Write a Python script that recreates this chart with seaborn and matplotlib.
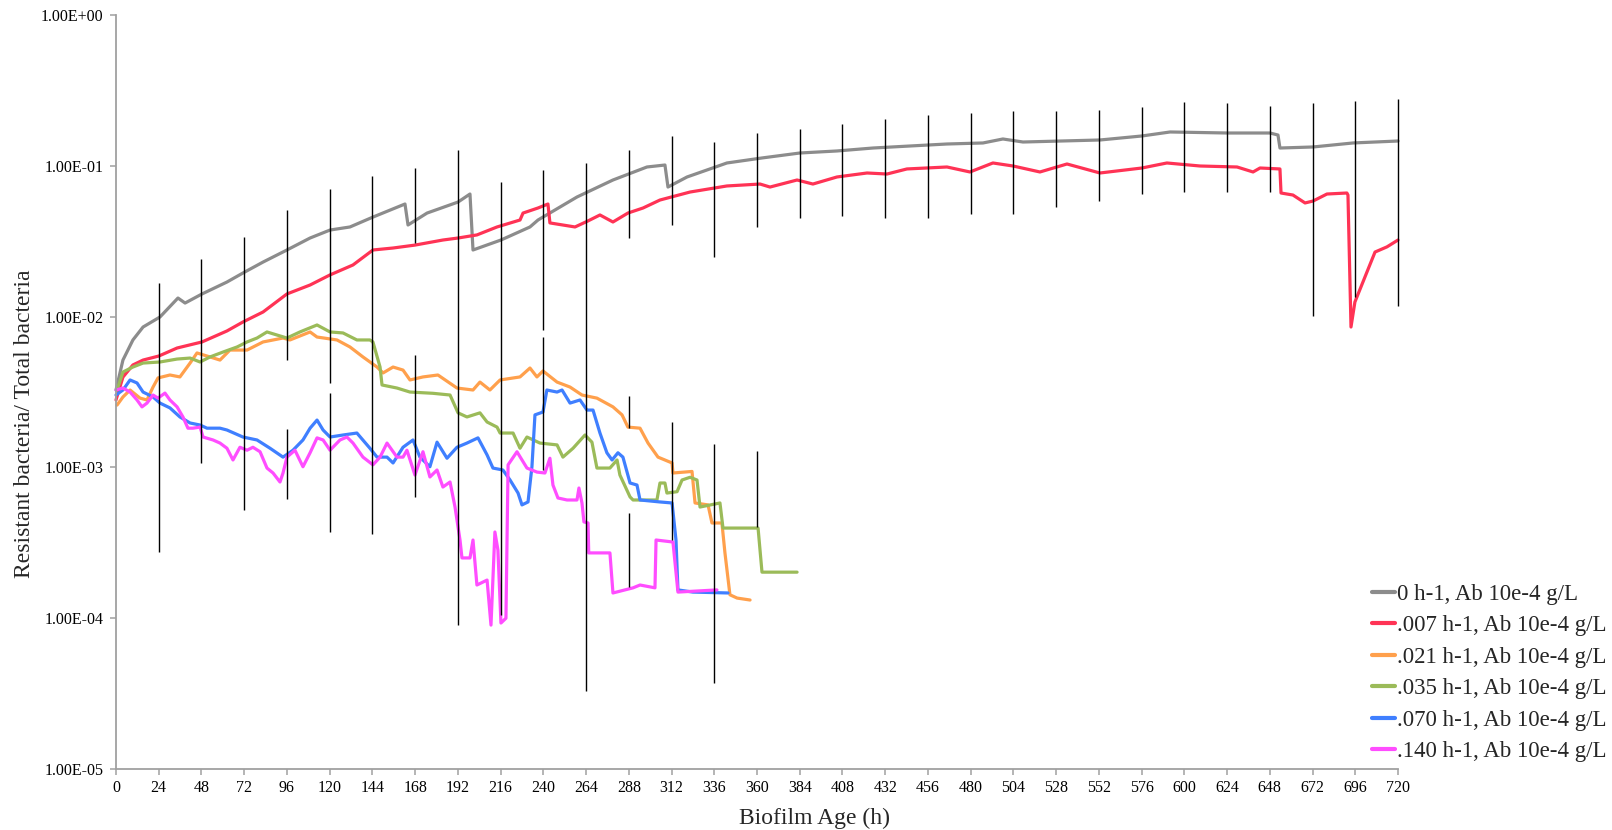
import matplotlib
matplotlib.use("Agg")
import numpy as np
import pandas as pd
import matplotlib.pyplot as plt
from matplotlib.ticker import NullLocator
import seaborn as sns

# series labels and colours
labels = ["0 h-1, Ab 10e-4 g/L", ".007 h-1, Ab 10e-4 g/L", ".021 h-1, Ab 10e-4 g/L",
          ".035 h-1, Ab 10e-4 g/L", ".070 h-1, Ab 10e-4 g/L", ".140 h-1, Ab 10e-4 g/L"]
colors = ["#8c8c8c", "#ff3355", "#ffa04c", "#9bbb59", "#3f7fff", "#ff4dff"]

# values (hours, resistant/total ratio)
grey_h = [0, 3.9, 9.5, 15.2, 24.7, 34.8, 38.8, 48.3, 62.3, 71.3, 82.6, 96.0, 109, 120.2, 131.4,
          144.3, 162.3, 164, 174.7, 192.1, 198.8, 200.5, 216.2, 232.5, 237, 258.9, 279.1, 298.2,
          308.3, 310, 320.7, 343.1, 362.8, 384.1, 404.9, 425.1, 445.9, 466.7, 486.9, 498.1, 509.4,
          552.6, 576.2, 592, 624, 648.1, 652.6, 653.7, 672.3, 694.7, 720]
grey_v = [3.26e-3, 5.15e-3, 7.0e-3, 8.53e-3, 9.94e-3, 1.328e-2, 1.23e-2, 1.413e-2, 1.695e-2, 1.946e-2,
          2.30e-2, 2.765e-2, 3.32e-2, 3.75e-2, 3.93e-2, 4.57e-2, 5.58e-2, 4.05e-2, 4.86e-2, 5.75e-2,
          6.50e-2, 2.765e-2, 3.22e-2, 3.93e-2, 4.37e-2, 6.21e-2, 8.05e-2, 9.82e-2, 1.012e-1, 7.23e-2,
          8.43e-2, 1.044e-1, 1.127e-1, 1.216e-1, 1.254e-1, 1.312e-1, 1.353e-1, 1.395e-1, 1.417e-1,
          1.506e-1, 1.438e-1, 1.483e-1, 1.577e-1, 1.676e-1, 1.650e-1, 1.650e-1, 1.60e-1, 1.312e-1,
          1.333e-1, 1.417e-1, 1.46e-1]

red_h = [0, 3.9, 9.5, 15.2, 24.1, 34.3, 48.3, 62.3, 71.3, 82.6, 96, 109, 120.2, 133.1, 144.3,
         155.6, 167.9, 183.6, 192.1, 202.7, 214, 226.9, 228.6, 237, 242.6, 243.7, 257.8, 265.1,
         271.8, 279.1, 287.5, 296, 305.5, 322.4, 343.1, 361.7, 367.3, 382.5, 391.4, 404.9, 421.8,
         433, 444.2, 466.7, 479.6, 492.5, 503.8, 518.9, 534.1, 552.6, 576.2, 590.2, 608.8, 629.6,
         638.6, 642.5, 653.7, 654.3, 661, 667.8, 672.3, 680.1, 691.3, 691.9, 693.6, 695.8, 702.6,
         707.1, 713.8, 720]
red_v = [2.80e-3, 3.97e-3, 4.78e-3, 5.15e-3, 5.48e-3, 6.19e-3, 6.79e-3, 8.03e-3, 9.21e-3, 1.073e-2,
         1.413e-2, 1.62e-2, 1.89e-2, 2.20e-2, 2.765e-2, 2.85e-2, 2.98e-2, 3.22e-2, 3.32e-2, 3.48e-2,
         3.93e-2, 4.37e-2, 4.86e-2, 5.25e-2, 5.58e-2, 4.18e-2, 3.93e-2, 4.31e-2, 4.72e-2, 4.24e-2,
         4.86e-2, 5.25e-2, 5.93e-2, 6.70e-2, 7.35e-2, 7.57e-2, 7.23e-2, 8.05e-2, 7.57e-2, 8.43e-2,
         8.96e-2, 8.82e-2, 9.53e-2, 9.82e-2, 9.10e-2, 1.044e-1, 9.97e-2, 9.10e-2, 1.028e-1, 8.96e-2,
         9.67e-2, 1.044e-1, 9.97e-2, 9.82e-2, 9.10e-2, 9.67e-2, 9.53e-2, 6.60e-2, 6.40e-2, 5.67e-2,
         5.84e-2, 6.50e-2, 6.60e-2, 6.40e-2, 8.53e-3, 1.25e-2, 1.98e-2, 2.68e-2, 2.90e-2, 3.22e-2]

orange_h = [0.6, 3.9, 7.9, 13.5, 17.4, 20.8, 23.6, 30.3, 35.9, 41.6, 45.5, 52.8, 58.4, 64, 73.6,
            82.6, 93.8, 97.7, 109, 112.9, 124.1, 131.4, 138.7, 146.6, 150, 155.6, 161.2, 165.1,
            172.4, 180.8, 191.5, 200.5, 204.4, 210, 215.7, 226.9, 232.5, 236.4, 239.8, 247.7, 255,
            261.7, 270.1, 279.1, 284.2, 287.5, 294.3, 298.8, 304.4, 312.3, 312.8, 323.5, 325.2,
            332.5, 334.7, 340.3, 342, 344.8, 348.8, 356.1]
orange_v = [2.59e-3, 2.93e-3, 3.26e-3, 2.88e-3, 2.80e-3, 3.41e-3, 3.92e-3, 4.10e-3, 3.98e-3, 4.92e-3,
            5.74e-3, 5.40e-3, 5.15e-3, 6.0e-3, 6.0e-3, 6.79e-3, 7.21e-3, 7.0e-3, 7.91e-3, 7.32e-3,
            7.0e-3, 6.29e-3, 5.40e-3, 4.63e-3, 4.23e-3, 4.63e-3, 4.42e-3, 3.80e-3, 3.98e-3, 4.10e-3,
            3.36e-3, 3.26e-3, 3.68e-3, 3.26e-3, 3.80e-3, 3.98e-3, 4.56e-3, 3.98e-3, 4.36e-3, 3.68e-3,
            3.41e-3, 3.02e-3, 2.88e-3, 2.52e-3, 2.23e-3, 1.85e-3, 1.82e-3, 1.45e-3, 1.17e-3, 1.07e-3,
            9.18e-4, 9.4e-4, 5.81e-4, 5.64e-4, 4.28e-4, 4.28e-4, 2.71e-4, 1.43e-4, 1.36e-4, 1.32e-4]

green_h = [0.6, 3.9, 9.5, 15.2, 24.7, 34.3, 41.6, 47.2, 52.8, 60.1, 68, 73.6, 79.2, 84.8, 90.4, 96,
           103.3, 112.9, 120.2, 127.5, 135.3, 142.6, 144.3, 148.3, 149.4, 157.8, 165.1, 178, 187.6,
           192.1, 197.1, 204.4, 208.4, 214, 215.7, 223, 226.9, 230.8, 238.1, 247.7, 251, 256.7,
           263.4, 267.3, 270.1, 277.4, 281.4, 283, 288.7, 290.4, 303.8, 305.5, 308.3, 309.4, 315.1,
           317.9, 322.4, 326.3, 328, 339.2, 340.9, 360.6, 362.8, 382.5]
green_v = [3.26e-3, 4.29e-3, 4.63e-3, 4.92e-3, 5.0e-3, 5.23e-3, 5.31e-3, 5.0e-3, 5.40e-3, 5.82e-3,
           6.29e-3, 6.79e-3, 7.21e-3, 7.91e-3, 7.55e-3, 7.21e-3, 7.91e-3, 8.80e-3, 7.91e-3, 7.79e-3,
           7.0e-3, 7.0e-3, 6.79e-3, 4.63e-3, 3.52e-3, 3.36e-3, 3.16e-3, 3.10e-3, 3.02e-3, 2.30e-3,
           2.16e-3, 2.30e-3, 2.0e-3, 1.85e-3, 1.69e-3, 1.69e-3, 1.34e-3, 1.59e-3, 1.45e-3, 1.41e-3,
           1.17e-3, 1.34e-3, 1.64e-3, 1.47e-3, 9.9e-4, 9.9e-4, 1.12e-3, 8.9e-4, 6.37e-4, 6.08e-4,
           6.08e-4, 7.88e-4, 7.88e-4, 6.76e-4, 6.9e-4, 8.25e-4, 8.6e-4, 8.25e-4, 5.46e-4, 5.81e-4,
           3.96e-4, 3.96e-4, 2.02e-4, 2.02e-4]

blue_h = [0, 3.9, 7.9, 11.8, 15.2, 20.8, 24.7, 30.3, 35.9, 41.6, 47.2, 51.1, 58.4, 62.3, 71.3, 79.2,
          86.5, 93.8, 99.4, 105, 109, 112.9, 116.3, 120.2, 127.5, 135.3, 142.6, 146.6, 152.2, 155.6,
          161.2, 165.1, 166.8, 170.7, 176.3, 180.3, 185.9, 191.5, 197.1, 203.3, 208.4, 211.7, 217.3,
          221.3, 225.8, 228, 231.4, 233.6, 235.3, 239.8, 242, 247.7, 250.5, 255, 260.6, 264.5,
          267.9, 271.8, 275.7, 278.6, 281.9, 284.7, 288.7, 292.6, 294.3, 305.5, 312.3, 314.5,
          315.6, 324, 343.7]
blue_v = [3.02e-3, 3.26e-3, 3.80e-3, 3.63e-3, 3.16e-3, 2.93e-3, 2.67e-3, 2.48e-3, 2.16e-3, 1.97e-3,
          1.91e-3, 1.82e-3, 1.82e-3, 1.77e-3, 1.59e-3, 1.52e-3, 1.34e-3, 1.17e-3, 1.30e-3, 1.52e-3,
          1.82e-3, 2.06e-3, 1.77e-3, 1.59e-3, 1.64e-3, 1.69e-3, 1.34e-3, 1.17e-3, 1.17e-3, 1.07e-3,
          1.36e-3, 1.47e-3, 1.52e-3, 1.17e-3, 1.01e-3, 1.47e-3, 1.15e-3, 1.36e-3, 1.45e-3, 1.57e-3,
          1.21e-3, 9.9e-4, 9.61e-4, 8.25e-4, 6.76e-4, 5.64e-4, 5.90e-4, 1.01e-3, 2.23e-3, 2.33e-3,
          3.26e-3, 3.16e-3, 3.26e-3, 2.67e-3, 2.80e-3, 2.40e-3, 2.40e-3, 1.69e-3, 1.25e-3, 1.12e-3,
          1.25e-3, 1.17e-3, 7.88e-4, 7.64e-4, 6.08e-4, 5.90e-4, 5.81e-4, 3.30e-4, 1.54e-4, 1.49e-4,
          1.47e-4]

pink_h = [0, 3.9, 7.9, 11.8, 14.6, 17.4, 20.8, 23.6, 27.5, 30.3, 34.3, 37.6, 40.4, 43.2, 47.2, 48.9,
          54.5, 58.4, 62.3, 65.7, 69.6, 73.6, 76.9, 80.9, 84.8, 88.2, 92.1, 93.8, 96, 100.5, 105,
          109, 112.9, 116.3, 120.2, 125.8, 129.7, 133.1, 138.7, 144.3, 148.3, 152.2, 157.8, 161.2,
          163.4, 167.9, 172.4, 176.3, 180.3, 183.6, 187.6, 190.4, 193.2, 194.3, 198.8, 200.5, 202.7,
          208.4, 210.6, 212.8, 214.5, 216.2, 219, 220.2, 225.2, 230.8, 236.4, 240.9, 243.7, 245.4,
          248.2, 253.3, 258.9, 260, 261.7, 262.8, 265.1, 265.5, 277.4, 279.1, 290.4, 294.3, 302.7,
          303.3, 312.8, 315.6, 337.5]
pink_v = [3.26e-3, 3.36e-3, 3.16e-3, 2.80e-3, 2.52e-3, 2.67e-3, 3.02e-3, 2.88e-3, 3.11e-3, 2.80e-3,
          2.52e-3, 2.16e-3, 1.82e-3, 1.82e-3, 1.85e-3, 1.59e-3, 1.52e-3, 1.45e-3, 1.34e-3, 1.12e-3,
          1.36e-3, 1.30e-3, 1.36e-3, 1.27e-3, 9.9e-4, 9.18e-4, 8.0e-4, 9.18e-4, 1.17e-3, 1.30e-3,
          1.01e-3, 1.25e-3, 1.57e-3, 1.52e-3, 1.30e-3, 1.52e-3, 1.59e-3, 1.45e-3, 1.17e-3, 1.04e-3,
          1.17e-3, 1.45e-3, 1.17e-3, 1.17e-3, 1.30e-3, 8.9e-4, 1.27e-3, 8.64e-4, 9.61e-4, 7.41e-4,
          8.0e-4, 5.46e-4, 3.30e-4, 2.51e-4, 2.51e-4, 3.30e-4, 1.66e-4, 1.79e-4, 9.0e-5, 3.73e-4,
          2.83e-4, 9.29e-5, 1.0e-4, 1.04e-3, 1.27e-3, 9.9e-4, 9.31e-4, 9.18e-4, 1.15e-3, 7.64e-4,
          6.27e-4, 6.08e-4, 6.08e-4, 7.30e-4, 5.81e-4, 4.35e-4, 4.28e-4, 2.71e-4, 2.71e-4, 1.47e-4,
          1.59e-4, 1.66e-4, 1.59e-4, 3.30e-4, 3.20e-4, 1.49e-4, 1.54e-4]

# error bars (vertical black lines), every 24 h
err_h = [24, 48, 72, 96, 96, 120, 120, 144, 168, 168, 192, 216, 240, 240, 264, 288, 288, 288,
         312, 312, 336, 336, 360, 360, 384, 408, 432, 456, 480, 504, 528, 552, 576, 600, 624,
         648, 672, 696, 720]
err_hi = [1.67e-2, 2.41e-2, 3.37e-2, 5.09e-2, 1.80e-3, 7.02e-2, 3.11e-3, 8.56e-2, 9.67e-2, 5.56e-3,
          1.27e-1, 7.81e-2, 9.38e-2, 7.32e-3, 1.04e-1, 1.27e-1, 2.97e-3, 4.99e-4, 1.58e-1, 2.00e-3,
          1.44e-1, 1.43e-3, 1.65e-1, 1.28e-3, 1.75e-1, 1.89e-1, 2.04e-1, 2.17e-1, 2.24e-1, 2.31e-1,
          2.31e-1, 2.34e-1, 2.45e-1, 2.65e-1, 2.61e-1, 2.49e-1, 2.61e-1, 2.69e-1, 2.77e-1]
err_lo = [2.75e-4, 1.07e-3, 5.22e-4, 5.15e-3, 6.17e-4, 3.63e-3, 3.73e-4, 3.62e-4, 3.08e-2, 6.37e-4,
          9.0e-5, 1.05e-4, 8.15e-3, 9.61e-4, 3.29e-5, 3.32e-2, 1.83e-3, 1.61e-4, 4.05e-2, 3.30e-4,
          2.48e-2, 3.72e-5, 3.93e-2, 4.03e-4, 4.51e-2, 4.65e-2, 4.51e-2, 4.51e-2, 4.79e-2, 4.79e-2,
          5.33e-2, 5.84e-2, 6.50e-2, 6.70e-2, 6.70e-2, 6.70e-2, 1.01e-2, 1.35e-2, 1.18e-2]

x_ticks = list(range(0, 721, 24))
y_ticks = [1e-5, 1e-4, 1e-3, 1e-2, 1e-1, 1e0]

# long table for seaborn
series = [grey_h, red_h, orange_h, green_h, blue_h, pink_h]
values = [grey_v, red_v, orange_v, green_v, blue_v, pink_v]
frames = []
for lab, h, v in zip(labels, series, values):
    frames.append(pd.DataFrame({"hours": h, "ratio": v, "series": lab}))
df = pd.concat(frames, ignore_index=True)

sns.set_theme(style="white")
plt.rcParams["font.family"] = ["Liberation Serif", "DejaVu Serif"]

fig = plt.figure(figsize=(16.12, 8.30), dpi=100)
ax = fig.add_axes([116 / 1612, 61 / 830, 1282 / 1612, 754 / 830])

sns.lineplot(data=df, x="hours", y="ratio", hue="series", hue_order=labels,
             palette=dict(zip(labels, colors)), estimator=None, sort=False,
             linewidth=2.3, ax=ax, zorder=2)
for line in ax.get_lines():
    line.set_clip_on(False)

ax.vlines(err_h, err_lo, err_hi, colors="black", linewidth=1.0, zorder=3, clip_on=False)

ax.set_yscale("log")
ax.set_xlim(0, 720)
ax.set_ylim(1e-5, 1)
ax.set_xticks(x_ticks)
ax.set_xticklabels([str(t) for t in x_ticks])
ax.set_yticks(y_ticks)
ax.set_yticklabels(["{:.2E}".format(t) for t in y_ticks])
ax.yaxis.set_minor_locator(NullLocator())

# axis look
for side in ["top", "right"]:
    ax.spines[side].set_visible(False)
for side in ["left", "bottom"]:
    ax.spines[side].set_color("#a0a0a0")
    ax.spines[side].set_linewidth(1.3)
ax.tick_params(axis="both", which="major", direction="out", length=4, width=1.1,
               color="#a0a0a0", labelsize=11.5, labelcolor="black", left=True, bottom=True)
ax.tick_params(axis="y", pad=5)
ax.tick_params(axis="x", pad=4)

ax.set_xlabel("Biofilm Age (h)", fontsize=17)
ax.set_ylabel("Resistant bacteria/ Total bacteria", fontsize=17)
ax.xaxis.set_label_coords(0.545, -0.052)
ax.yaxis.set_label_coords(-0.063, 0.458)

# legend at lower right, no frame
handles, labs = ax.get_legend_handles_labels()
for hdl in handles:
    hdl.set_linewidth(3)
ax.legend(handles, labs, loc="center left", bbox_to_anchor=(1372 / 1612, 157 / 830),
          bbox_transform=fig.transFigure, frameon=False, fontsize=16.5, handlelength=1.0,
          handletextpad=0.1, labelspacing=0.45, borderpad=0, borderaxespad=0)

fig.savefig("out.png", dpi=100)
